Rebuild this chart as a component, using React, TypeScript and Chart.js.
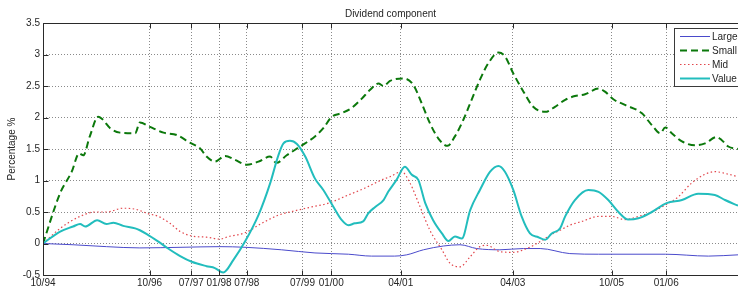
import React, { useEffect, useRef } from "react";
import { Chart, registerables } from "chart.js";

Chart.register(...registerables);

const TITLE = "Dividend component";
const Y_LABEL = "Percentage %";

// x axis: observation index (0 .. 150), tick labels at given indices
const X_MAX = 150;
const xTickPositions = [0, 23, 32, 38, 44, 56, 62.2, 77.2, 101.4, 122.7, 134.5];
const xTickLabels = ["10/94", "10/96", "07/97", "01/98", "07/98", "07/99", "01/00", "04/01", "04/03", "10/05", "01/06"];
const Y_MIN = -0.5;
const Y_MAX = 3.5;
const Y_STEP = 0.5;

const seriesNames = ["Large", "Small", "Mid", "Value"];

const largeIdx = [0, 6.5, 13.7, 20.9, 30, 38.2, 43.6, 51.5, 58.7, 65.9, 70.9, 75.9, 78.5, 82.1, 86.4, 90, 93.6, 98.6, 103.7, 107.3, 113.7, 119.9, 134.3, 143.6, 150];
const largeVal = [0, -0.02, -0.05, -0.07, -0.06, -0.05, -0.06, -0.10, -0.15, -0.17, -0.20, -0.20, -0.18, -0.10, -0.04, -0.02, -0.08, -0.10, -0.08, -0.08, -0.16, -0.17, -0.17, -0.20, -0.18];

const smallIdx = [
  0, 3.7, 6.2, 7.8, 8.7, 10.1, 11.9, 12.7, 14.5, 16.6,
  19.9, 20.9, 23.1, 26, 28.9, 31.7, 33.9, 35.3, 37.1, 39.3,
  41.4, 44, 46.5, 49, 50.4, 52.6, 55.5, 58.7, 60.5, 62.3,
  64.5, 66.6, 68.8, 70.6, 72.4, 73.5, 74.9, 77.8, 79.9, 81.7,
  83.5, 85.3, 87.3, 88.9, 90.7, 92.5, 94.3, 96.1, 98.3, 99.7,
  101.5, 103.7, 105.8, 108.4, 110.5, 112.7, 114.8, 117, 119.9, 121.3,
  123.1, 125.6, 129.2, 131.4, 133.2, 134.3, 135.7, 137.9, 140.7, 142.9,
  145.4, 146.5, 147.9, 150,
];
const smallVal = [
  0, 0.80, 1.14, 1.43, 1.40, 1.70, 2.01, 1.98, 1.83, 1.76,
  1.75, 1.92, 1.85, 1.76, 1.72, 1.60, 1.51, 1.38, 1.30, 1.39,
  1.33, 1.25, 1.30, 1.38, 1.28, 1.40, 1.54, 1.70, 1.83, 2.01,
  2.07, 2.15, 2.30, 2.44, 2.54, 2.50, 2.58, 2.62, 2.52, 2.23,
  1.91, 1.67, 1.55, 1.70, 1.96, 2.28, 2.60, 2.86, 3.03, 2.97,
  2.70, 2.41, 2.17, 2.09, 2.17, 2.28, 2.34, 2.37, 2.46, 2.41,
  2.29, 2.20, 2.07, 1.88, 1.75, 1.84, 1.75, 1.62, 1.56, 1.59,
  1.69, 1.64, 1.54, 1.50,
];

const midIdx = [
  0, 3.7, 8, 11.2, 13.7, 17.3, 20.2, 22.4, 24.9, 27.4,
  29.6, 32.1, 35.3, 38.2, 40, 43.6, 47.2, 50.8, 54.4, 58,
  61.6, 65.9, 69.5, 73.1, 74.9, 77.4, 79.2, 81.4, 83.5, 86.1,
  87.8, 90, 92.2, 94.3, 95.8, 98.6, 101.5, 104.4, 107.3, 109.4,
  111.6, 113.7, 116.3, 119.9, 122.7, 125.6, 128.5, 131.4, 134.3, 137.1,
  140, 142.9, 145, 147.9, 150,
];
const midVal = [
  0, 0.24, 0.43, 0.50, 0.50, 0.56, 0.54, 0.48, 0.43, 0.32,
  0.19, 0.12, 0.10, 0.07, 0.11, 0.17, 0.32, 0.45, 0.52, 0.58,
  0.64, 0.77, 0.88, 1.01, 1.06, 1.14, 0.96, 0.58, 0.21, -0.10,
  -0.31, -0.37, -0.21, -0.05, -0.03, -0.13, -0.14, -0.08, 0.03, 0.13,
  0.21, 0.29, 0.35, 0.43, 0.43, 0.38, 0.43, 0.50, 0.61, 0.74,
  0.96, 1.10, 1.14, 1.10, 1.06,
];

const valueIdx = [
  0, 3.7, 6.5, 8, 9.1, 11.7, 13.7, 15.2, 17.3, 19.9,
  20.9, 22.4, 24.9, 27, 29.6, 32.1, 35.3, 37.1, 38.9, 41.1,
  43.6, 46.5, 49, 50.8, 51.9, 53.3, 54.8, 56.6, 58.7, 60.5,
  62.7, 64.5, 65.9, 67.3, 69.1, 70.2, 71.7, 73.5, 74.5, 76.3,
  78.1, 79.6, 81, 82.5, 84.2, 86.1, 87.5, 88.9, 90.4, 92.2,
  94.3, 96.5, 98.3, 99.7, 101.5, 103.3, 105.1, 106.9, 108.4, 109.8,
  111.6, 112.7, 114.8, 117.7, 119.9, 122, 124.2, 126.3, 128.5, 131.4,
  134.6, 137.9, 141.4, 145, 147.2, 150,
];
const valueVal = [
  0, 0.19, 0.27, 0.31, 0.27, 0.37, 0.31, 0.33, 0.28, 0.24,
  0.21, 0.15, 0.03, -0.08, -0.20, -0.29, -0.36, -0.39, -0.46, -0.26,
  0.03, 0.45, 0.95, 1.40, 1.59, 1.63, 1.58, 1.38, 1.03, 0.85,
  0.58, 0.37, 0.29, 0.32, 0.35, 0.48, 0.58, 0.69, 0.82, 1.01,
  1.22, 1.09, 1.01, 0.64, 0.37, 0.16, 0.04, 0.11, 0.08, 0.53,
  0.85, 1.14, 1.23, 1.14, 0.85, 0.43, 0.16, 0.10, 0.06, 0.16,
  0.24, 0.43, 0.69, 0.85, 0.82, 0.69, 0.50, 0.38, 0.40, 0.50,
  0.64, 0.69, 0.79, 0.77, 0.69, 0.60,
];

const FONT = "'Liberation Sans', Arial, sans-serif";
const TEXT_COLOR = "#262626";

const styles = [
  { color: "#4a4acb", width: 1, dash: [] as number[] },
  { color: "#0b780b", width: 2, dash: [7, 4] },
  { color: "#e2464c", width: 1.2, dash: [1.5, 2.5] },
  { color: "#22bdbd", width: 2, dash: [] as number[] },
];

function zip(xs: number[], ys: number[]) {
  return xs.map((x, i) => ({ x, y: ys[i] }));
}

const framePlugin = {
  id: "matlabFrame",
  afterDraw(chart: any) {
    const { ctx, chartArea: a, scales } = chart;
    const xs = scales.x;
    const ys = scales.y;
    const L = Math.round(a.left) + 0.5;
    const T = Math.round(a.top) + 0.5;
    const B = Math.round(a.bottom) + 0.5;
    const R = a.right;
    ctx.save();
    ctx.strokeStyle = "#2a2a2a";
    ctx.lineWidth = 1;
    ctx.setLineDash([]);
    ctx.beginPath();
    ctx.moveTo(R + 5, T);
    ctx.lineTo(L, T);
    ctx.lineTo(L, B);
    ctx.lineTo(R + 5, B);
    ctx.stroke();
    // inward ticks
    ctx.beginPath();
    xTickPositions.forEach((v) => {
      const px = Math.round(xs.getPixelForValue(v)) + 0.5;
      ctx.moveTo(px, B);
      ctx.lineTo(px, B - 5);
      ctx.moveTo(px, T);
      ctx.lineTo(px, T + 5);
    });
    for (let v = Y_MIN; v <= Y_MAX + 1e-9; v += Y_STEP) {
      const py = Math.round(ys.getPixelForValue(v)) + 0.5;
      ctx.moveTo(L, py);
      ctx.lineTo(L + 5, py);
    }
    ctx.stroke();

    // title
    ctx.fillStyle = TEXT_COLOR;
    ctx.font = `10px ${FONT}`;
    ctx.textAlign = "center";
    ctx.textBaseline = "alphabetic";
    ctx.fillText(TITLE, (a.left + 738) / 2, 17);

    // y label
    ctx.save();
    ctx.translate(12.5, (a.top + a.bottom) / 2);
    ctx.rotate(-Math.PI / 2);
    ctx.textBaseline = "middle";
    ctx.fillText(Y_LABEL, 0, 0);
    ctx.restore();

    // legend
    const lx = 674.5;
    const ly = 28.5;
    ctx.fillStyle = "#ffffff";
    ctx.fillRect(lx, ly, 80, 58);
    ctx.strokeStyle = "#3a3a3a";
    ctx.lineWidth = 1;
    ctx.strokeRect(lx, ly, 80, 58);
    ctx.textAlign = "left";
    ctx.textBaseline = "middle";
    ctx.font = `10px ${FONT}`;
    seriesNames.forEach((name, i) => {
      const y = 36.5 + i * 14;
      const st = styles[i];
      ctx.strokeStyle = st.color;
      ctx.lineWidth = st.width;
      ctx.setLineDash(st.dash);
      ctx.beginPath();
      ctx.moveTo(680, y);
      ctx.lineTo(710, y);
      ctx.stroke();
      ctx.setLineDash([]);
      ctx.fillStyle = TEXT_COLOR;
      ctx.fillText(name, 712, y + 0.5);
    });
    ctx.restore();
  },
};

export default function App() {
  const ref = useRef<HTMLCanvasElement | null>(null);

  useEffect(() => {
    if (!ref.current) return;
    const seriesData = [
      zip(largeIdx, largeVal),
      zip(smallIdx, smallVal),
      zip(midIdx, midVal),
      zip(valueIdx, valueVal),
    ];
    const chart = new Chart(ref.current, {
      type: "line",
      data: {
        datasets: seriesNames.map((name, i) => ({
          label: name,
          data: seriesData[i],
          borderColor: styles[i].color,
          borderWidth: styles[i].width,
          borderDash: styles[i].dash,
          pointRadius: 0,
          cubicInterpolationMode: "monotone",
          fill: false,
          order: 4 - i,
        })),
      },
      options: {
        animation: false,
        responsive: false,
        devicePixelRatio: 1,
        layout: { padding: { top: 23, left: 0, right: 0, bottom: 0 } },
        plugins: {
          legend: { display: false },
          tooltip: { enabled: false },
          title: { display: false },
        },
        scales: {
          x: {
            type: "linear",
            min: 0,
            max: X_MAX,
            afterBuildTicks: (scale: any) => {
              scale.ticks = xTickPositions.map((v) => ({ value: v }));
            },
            afterFit: (scale: any) => {
              scale.height = 16;
            },
            ticks: {
              autoSkip: false,
              maxRotation: 0,
              minRotation: 0,
              padding: 2,
              color: TEXT_COLOR,
              font: { family: FONT, size: 10 },
              callback: (value: any) => {
                const k = xTickPositions.indexOf(Number(value));
                return k >= 0 ? xTickLabels[k] : "";
              },
            },
            grid: { color: "#8a8a8a", lineWidth: 1, drawTicks: false },
            border: { display: false, dash: [1, 2] },
          },
          y: {
            min: Y_MIN,
            max: Y_MAX,
            afterFit: (scale: any) => {
              scale.width = 43;
            },
            ticks: {
              stepSize: Y_STEP,
              padding: 3,
              color: TEXT_COLOR,
              font: { family: FONT, size: 10 },
              callback: (value: any) => String(value),
            },
            grid: { color: "#8a8a8a", lineWidth: 1, drawTicks: false },
            border: { display: false, dash: [1, 2] },
          },
        },
      },
      plugins: [framePlugin],
    } as any);
    return () => chart.destroy();
  }, []);

  return (
    <div style={{ position: "fixed", left: 0, top: 0, width: 738, height: 291, background: "#fff" }}>
      <canvas ref={ref} width={738} height={291} style={{ display: "block" }} />
    </div>
  );
}
